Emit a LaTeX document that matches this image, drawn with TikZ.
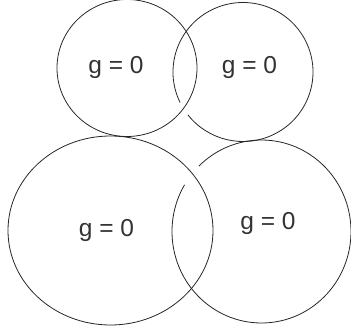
\documentclass[tikz,border=0pt]{standalone}
\usepackage{fontspec}
\setmainfont{Liberation Sans}
\definecolor{ink}{HTML}{333333}
\begin{document}
\begin{tikzpicture}[x=1pt,y=-1pt,
  ring/.style={draw=black!85,line width=0.8pt},
  lbl/.style={inner sep=0pt,text=ink,font=\fontsize{24.5}{28}\selectfont}]
\useasboundingbox (0,0) rectangle (351,332);
% top-left circle (full)
\draw[ring] (127,68) ellipse [x radius=70,y radius=68.5];
% top-right circle, broken at lower crossing
\draw[ring] (243,72) ++(154:70 and 69.5) arc [start angle=154,end angle=502,x radius=70,y radius=69.5];
% bottom-left ellipse (full)
\draw[ring] (110.5,230.5) ellipse [x radius=102.5,y radius=94.5];
% bottom-right circle, broken at upper crossing
\draw[ring] (261.5,231.5) ++(225.7:89.5 and 91.5) arc [start angle=225.7,end angle=570.7,x radius=89.5,y radius=91.5];
\node[lbl] (tl) at (116,67) {g = 0};
\node[lbl] (tr) at (249.5,67) {g = 0};
\node[lbl] (bl) at (106.5,230) {g = 0};
\node[lbl] (br) at (268,223) {g = 0};
\end{tikzpicture}
\end{document}
